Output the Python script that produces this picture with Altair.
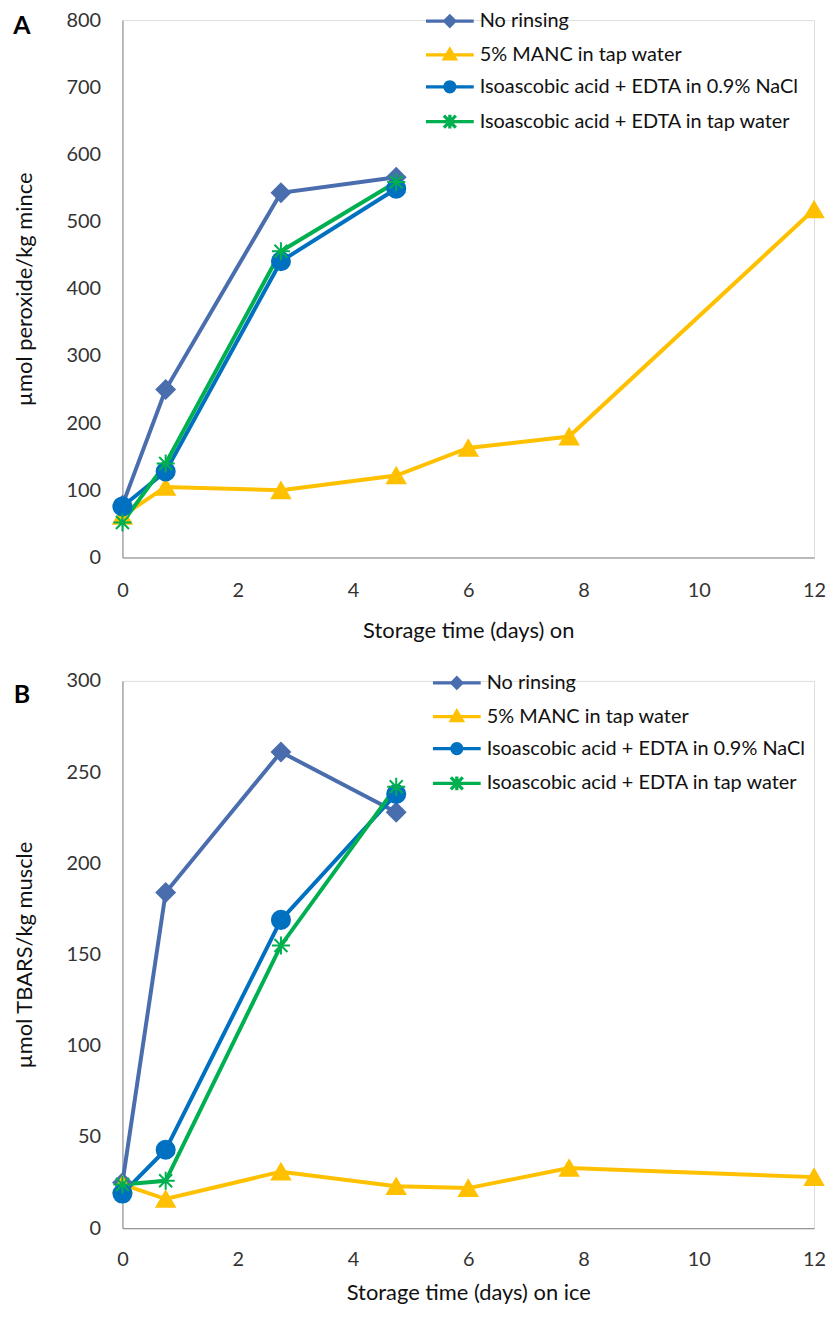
import altair as alt
import pandas as pd

FONT = "Lato"

series_names = [
    "No rinsing",
    "5% MANC in tap water",
    "Isoascobic acid + EDTA in 0.9% NaCl",
    "Isoascobic acid + EDTA in tap water",
]
colors = ["#4A6DAE", "#FFC000", "#0070C0", "#00B050"]

days_short = [0, 0.75, 2.75, 4.75]
days_long = [0, 0.75, 2.75, 4.75, 6, 7.75, 12]

# Panel A: peroxide
A_no = [78, 250, 543, 566]
A_manc = [62, 105, 100, 122, 163, 180, 518]
A_nacl = [76, 128, 441, 549]
A_tap = [52, 140, 456, 559]

# Panel B: TBARS
B_no = [25, 184, 261, 228]
B_manc = [24, 16, 31, 23, 22, 33, 28]
B_nacl = [19, 43, 169, 238]
B_tap = [24, 26, 155, 242]

x_ticks = [0, 2, 4, 6, 8, 10, 12]

STAR = "M-1,0L1,0M0,-1L0,1M-0.72,-0.72L0.72,0.72M-0.72,0.72L0.72,-0.72"
main_shapes = ["diamond", "triangle-up", "circle", STAR]
main_sizes = [330, 330, 420, 520]

LEG_LINE = "M-2.4,0L2.4,0"
legend_shapes = [
    LEG_LINE + "M0,-0.5L0.5,0L0,0.5L-0.5,0Z",
    LEG_LINE + "M0,-0.55L0.55,0.4L-0.55,0.4Z",
    LEG_LINE + "M-0.5,0A0.5,0.5 0 1,0 0.5,0A0.5,0.5 0 1,0 -0.5,0Z",
    LEG_LINE + "M0,-0.7L0,0.7M-0.6,-0.6L0.6,0.6M-0.6,0.6L0.6,-0.6",
]


def build_df(vals):
    rows = []
    for i, (name, xs, ys) in enumerate(vals):
        for x, y in zip(xs, ys):
            rows.append({"series": name, "idx": i, "day": x, "value": y})
    return pd.DataFrame(rows)


def panel(df, ymax, ystep, ytitle, xtitle, letter, letter_y, leg_x, leg_y, height,
          xlabpad, xtitlepad):
    sdom = alt.Scale(domain=series_names, range=colors)
    xenc = alt.X(
        "day:Q",
        scale=alt.Scale(domain=[0, 12], nice=False),
        axis=alt.Axis(
            values=x_ticks, title=xtitle, grid=False, ticks=False, labelFlush=False,
            labelFontSize=20, titleFontSize=22, labelFont=FONT, titleFont=FONT,
            labelPadding=xlabpad, titlePadding=xtitlepad, domainColor="#868686",
            labelColor="#333333", titleColor="#111111", titleFontWeight="normal",
        ),
    )
    yenc = alt.Y(
        "value:Q",
        scale=alt.Scale(domain=[0, ymax], nice=False),
        axis=alt.Axis(
            values=list(range(0, ymax + 1, ystep)), title=ytitle, grid=False, ticks=False,
            labelFlush=False,
            labelFontSize=20, titleFontSize=22, labelFont=FONT, titleFont=FONT,
            labelPadding=22, titlePadding=30, domainColor="#868686",
            labelColor="#333333", titleColor="#111111", titleFontWeight="normal",
        ),
    )
    base = alt.Chart(df)
    lines = base.mark_line(strokeWidth=4).encode(
        x=xenc, y=yenc,
        color=alt.Color("series:N", scale=sdom, legend=None),
        detail="series:N",
        order="day:Q",
    )
    points = base.mark_point(filled=True, strokeWidth=2, opacity=1).encode(
        x=xenc, y=yenc,
        fill=alt.Fill("series:N", scale=alt.Scale(domain=series_names, range=colors), legend=None),
        stroke=alt.Stroke("series:N", scale=alt.Scale(domain=series_names, range=colors), legend=None),
        shape=alt.Shape("series:N", scale=alt.Scale(domain=series_names, range=main_shapes), legend=None),
        size=alt.Size("series:N", scale=alt.Scale(domain=series_names, range=main_sizes), legend=None),
        order="idx:Q",
    )
    leg = alt.Legend(
        orient="none", legendX=leg_x, legendY=leg_y, title=None,
        labelFont=FONT, labelFontSize=20, labelColor="#111111",
        symbolSize=400, symbolStrokeWidth=3.3, rowPadding=9,
        labelOffset=18, labelLimit=0, symbolOpacity=1, padding=0,
    )
    legend_layer = base.transform_filter("false").mark_point(
        filled=True, size=400, strokeWidth=3.3, opacity=1
    ).encode(
        x=xenc, y=yenc,
        fill=alt.Fill("series:N", scale=alt.Scale(domain=series_names, range=colors), legend=leg),
        stroke=alt.Stroke("series:N", scale=alt.Scale(domain=series_names, range=colors), legend=leg),
        shape=alt.Shape("series:N", scale=alt.Scale(domain=series_names, range=legend_shapes), legend=leg),
    )
    label = alt.Chart(pd.DataFrame({"t": [letter]})).mark_text(
        font=FONT, fontSize=25, fontWeight="bold", align="center", baseline="middle", color="#000000"
    ).encode(text="t:N", x=alt.value(-101), y=alt.value(letter_y))
    return alt.layer(lines, points, legend_layer, label).resolve_scale(
        fill="independent", stroke="independent", shape="independent", size="independent"
    ).properties(width=695, height=height)


dfA = build_df([
    (series_names[0], days_short, A_no),
    (series_names[1], days_long, A_manc),
    (series_names[2], days_short, A_nacl),
    (series_names[3], days_short, A_tap),
])
dfB = build_df([
    (series_names[0], days_short, B_no),
    (series_names[1], days_long, B_manc),
    (series_names[2], days_short, B_nacl),
    (series_names[3], days_short, B_tap),
])

chartA = panel(dfA, 800, 100, "µmol peroxide/kg mince", "Storage time (days) on", "A", 6,
               317, -11, 540, 23, 20)
chartB = panel(dfB, 300, 50, "µmol  TBARS/kg muscle", "Storage time (days) on ice", "B", 14,
               324, -10, 550, 21, 14)

chart = alt.vconcat(chartA, chartB, spacing=28).properties(
    padding={"left": 4, "top": -3, "right": 0, "bottom": 0}
).configure_view(stroke=None).configure(font=FONT)

chart.save("out.html", embed_options={"renderer": "svg", "actions": False})
